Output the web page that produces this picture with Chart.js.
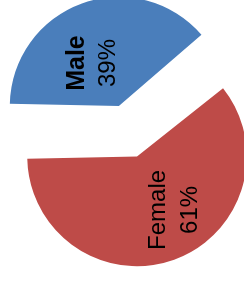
<!DOCTYPE html>
<html>
<head>
<meta charset="utf-8">
<script src="https://cdn.jsdelivr.net/npm/chart.js@4/dist/chart.umd.min.js"></script>
<style>
  html, body { margin: 0; padding: 0; background: #fff; }
  #wrap { width: 244px; height: 282px; }
</style>
</head>
<body>
<div id="wrap"><canvas id="pieChart"></canvas></div>
<script>
const categories = ["Male", "Female"];
const shares = [39, 61];
const colors = ["#4A7EBB", "#BE4B48"];

// where each label sits: fraction of radius from slice centre, angle shift (deg)
const labelSpots = [[0.53, -11.5], [0.69, -15.5]];

const sliceLabels = {
  id: "sliceLabels",
  afterDatasetsDraw(chart) {
    const ctx = chart.ctx;
    const arcs = chart.getDatasetMeta(0).data;
    arcs.forEach((arc, i) => {
      const p = arc.getProps(["x", "y", "startAngle", "endAngle", "outerRadius"], true);
      const offset = (arc.options.offset || 0) / 4;
      const half = (p.startAngle + p.endAngle) / 2;
      const cx = p.x + Math.cos(half) * offset;
      const cy = p.y + Math.sin(half) * offset;
      const ang = half + labelSpots[i][1] * Math.PI / 180;
      const dist = p.outerRadius * labelSpots[i][0];
      const lx = cx + Math.cos(ang) * dist;
      const ly = cy + Math.sin(ang) * dist;

      ctx.save();
      ctx.translate(lx, ly);
      ctx.rotate(-Math.PI / 2);
      ctx.fillStyle = "#000";
      ctx.textAlign = "center";
      ctx.textBaseline = "middle";
      ctx.font = i === 0 ? "bold 25px 'Liberation Sans'" : "24px 'Liberation Sans'";
      ctx.fillText(categories[i], 0, -16);
      ctx.font = "24px 'Liberation Sans'";
      ctx.fillText(shares[i] + "%", 0, 16);
      ctx.restore();
    });
  }
};

new Chart(document.getElementById("pieChart"), {
  type: "pie",
  data: {
    labels: categories,
    datasets: [{
      data: shares,
      backgroundColor: colors,
      borderWidth: 0,
      offset: [155, 59],
      clip: false
    }]
  },
  options: {
    responsive: true,
    maintainAspectRatio: false,
    animation: false,
    rotation: -90,
    radius: 95,
    layout: { padding: { left: 20, top: 3 } },
    events: [],
    plugins: {
      legend: { display: false },
      tooltip: { enabled: false }
    }
  },
  plugins: [sliceLabels]
});
</script>
</body>
</html>
